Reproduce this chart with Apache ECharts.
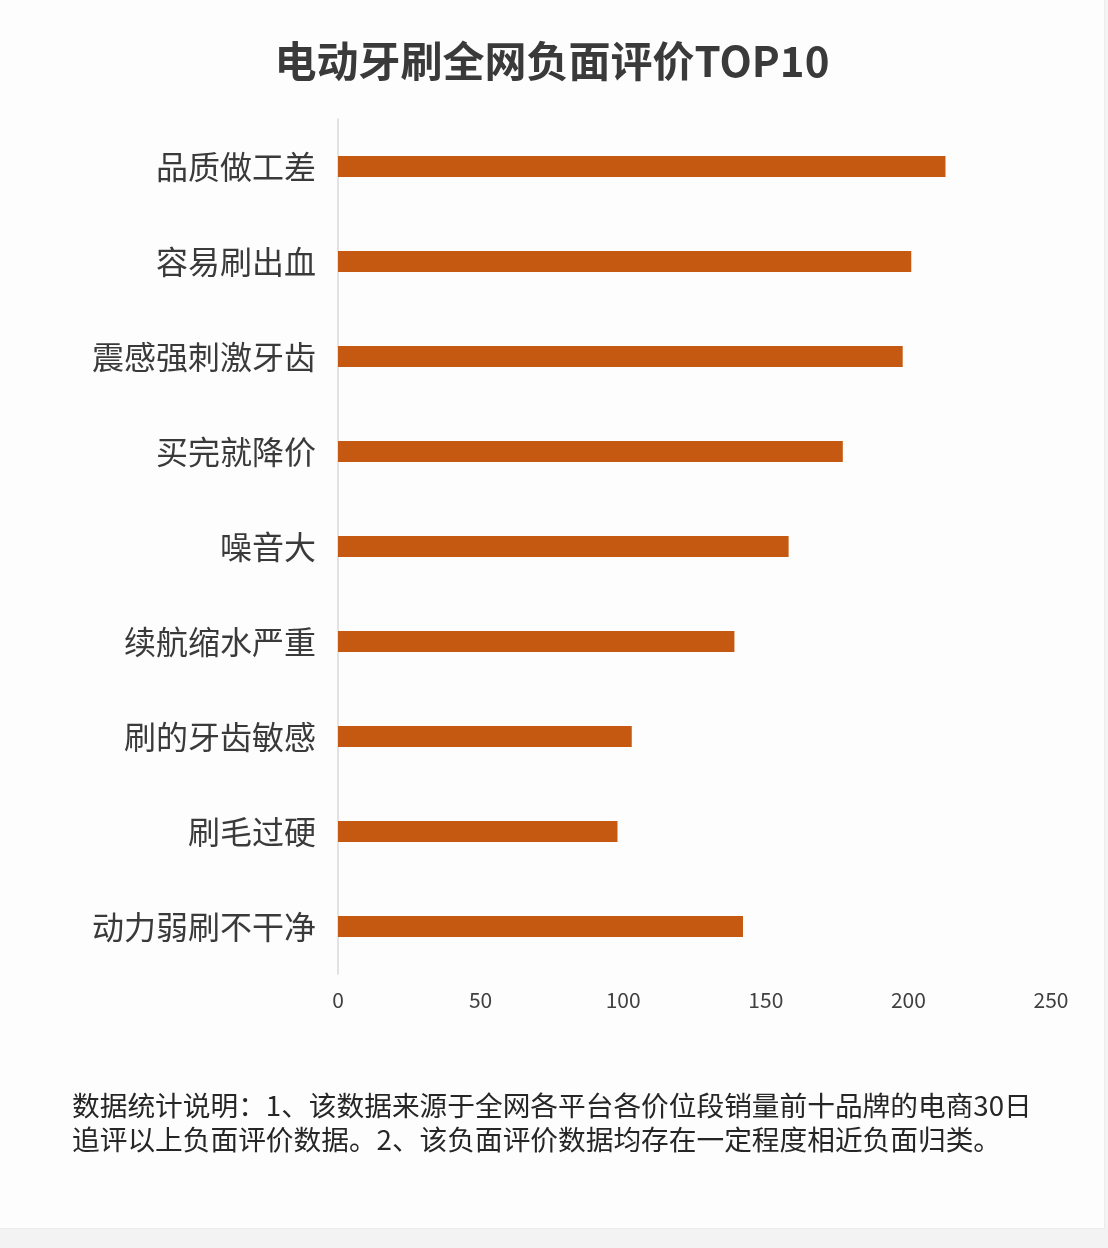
<!DOCTYPE html>
<html>
<head>
<meta charset="utf-8">
<script src="https://cdn.jsdelivr.net/npm/echarts@6/dist/echarts.min.js"></script>
<style>
  html, body { margin: 0; padding: 0; background: #f3f3f3; }
  #main { width: 1104px; height: 1228px; background: #fdfdfd; border-right: 1px solid #ececec; border-bottom: 1px solid #ececec; }
</style>
</head>
<body>
<div id="main"></div>
<script>
// 负面评价类别（从上到下）
var categories = ['品质做工差', '容易刷出血', '震感强刺激牙齿', '买完就降价', '噪音大',
  '续航缩水严重', '刷的牙齿敏感', '刷毛过硬', '动力弱刷不干净']
var counts = [213, 201, 198, 177, 158, 139, 103, 98, 142]
var xTicks = [0, 50, 100, 150, 200, 250]

var titleText = '电动牙刷全网负面评价TOP10'
var noteText = '数据统计说明：1、该数据来源于全网各平台各价位段销量前十品牌的电商30日\n追评以上负面评价数据。2、该负面评价数据均存在一定程度相近负面归类。'

var font = '"Microsoft YaHei", "Noto Sans CJK SC", sans-serif'

var myChart = echarts.init(document.getElementById('main'), null, { renderer: 'canvas' })

var option = {
  animation: false,
  title: {
    text: titleText,
    left: 'center',
    top: 35,
    textStyle: { fontFamily: font, fontSize: 42, fontWeight: 'bold', color: '#3a3a3a' }
  },
  grid: { left: 338, right: 53, top: 119, bottom: 254 },
  xAxis: {
    type: 'value',
    min: xTicks[0],
    max: xTicks[xTicks.length - 1],
    interval: 50,
    axisLine: { show: false },
    axisTick: { show: false },
    splitLine: { show: false },
    axisLabel: { fontFamily: font, fontSize: 21, color: '#404040', margin: 16 }
  },
  yAxis: {
    type: 'category',
    data: categories,
    inverse: true,
    axisLine: { show: true, lineStyle: { color: '#d9d9d9', width: 1.5 } },
    axisTick: { show: false },
    axisLabel: { fontFamily: font, fontSize: 32, color: '#3a3a3a', margin: 22 }
  },
  series: [{
    type: 'bar',
    data: counts,
    barWidth: 21,
    itemStyle: { color: '#C65911' }
  }],
  graphic: [{
    type: 'text',
    left: 72,
    top: 1088,
    style: {
      text: noteText,
      font: '27.7px ' + font,
      fill: '#262626',
      lineHeight: 34
    }
  }]
}

myChart.setOption(option)
</script>
</body>
</html>
